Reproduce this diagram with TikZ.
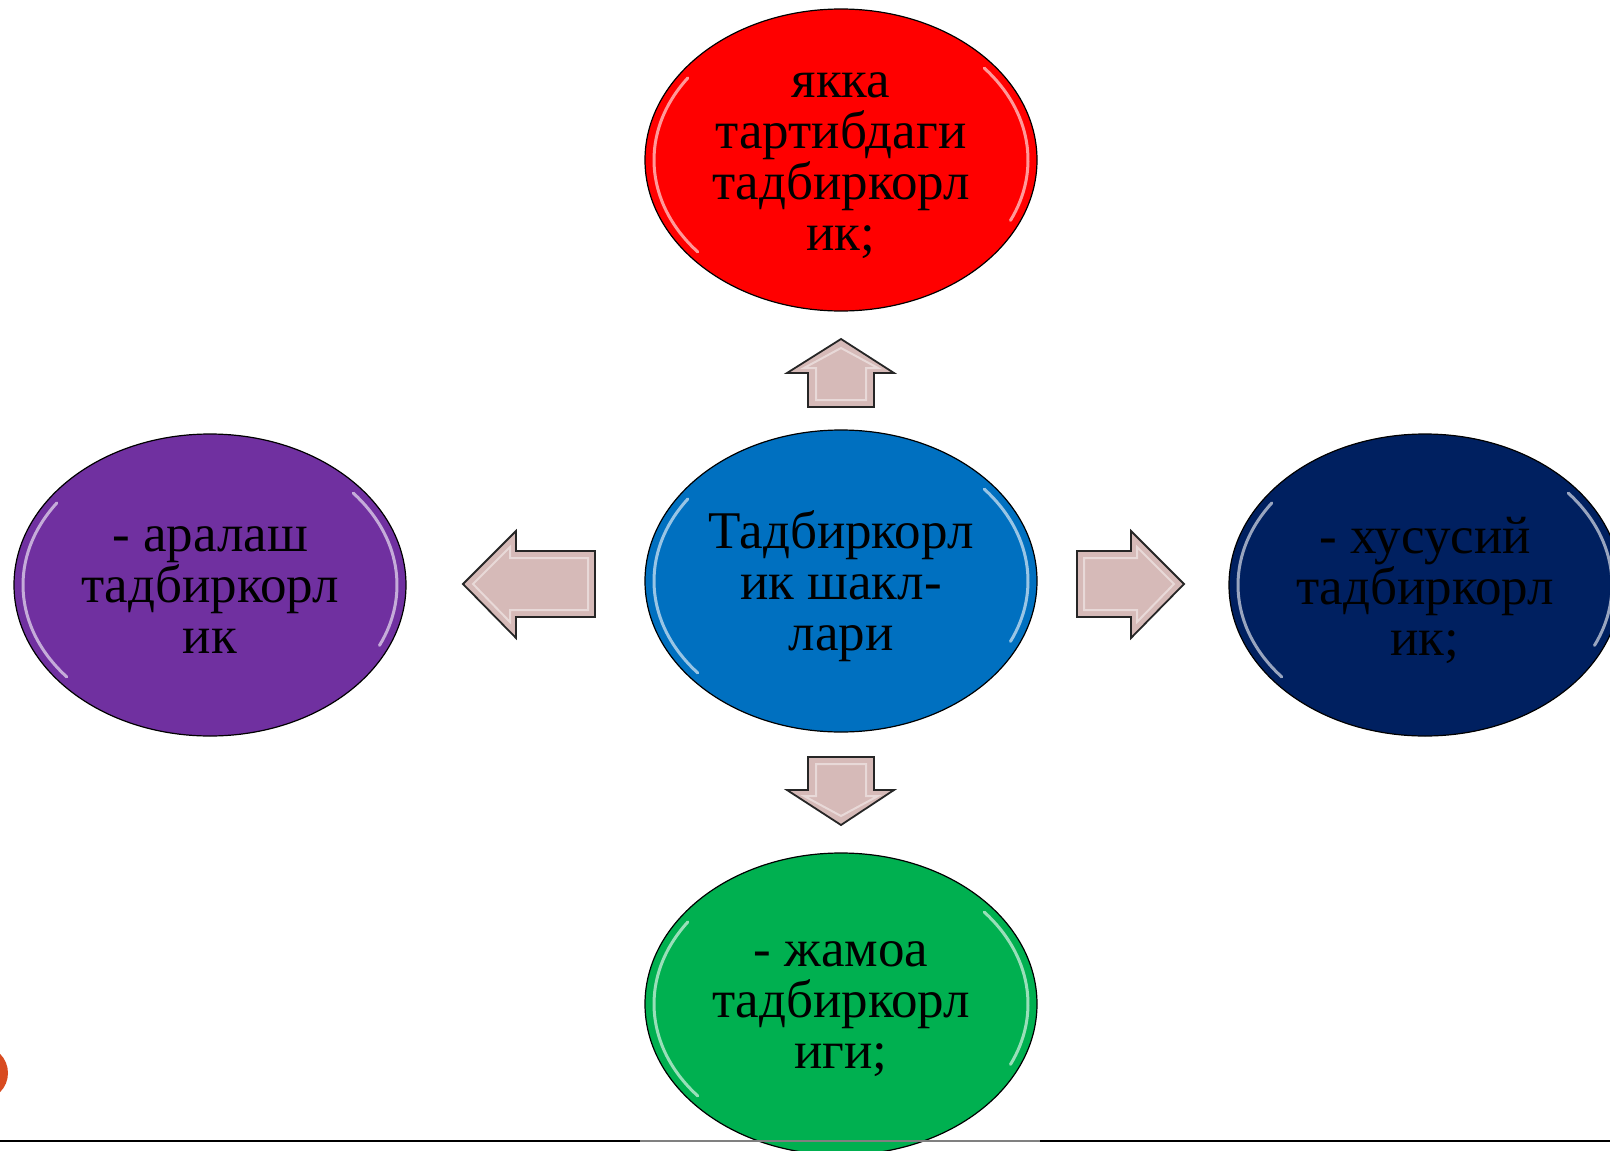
\documentclass[tikz,border=0pt]{standalone}
\usepackage{fontspec}
\setmainfont{Liberation Serif}
\usetikzlibrary{shapes.geometric}
\definecolor{cRed}{RGB}{255,0,0}
\definecolor{cBlue}{RGB}{0,112,192}
\definecolor{cPurple}{RGB}{112,48,160}
\definecolor{cNavy}{RGB}{0,32,96}
\definecolor{cGreen}{RGB}{0,176,80}
\definecolor{cPink}{RGB}{214,186,184}
\definecolor{cOrange}{RGB}{216,75,32}
\tikzset{
  form/.style={ellipse, draw=black, line width=1.2pt, minimum width=392pt, minimum height=302pt},
  txt/.style={align=center, text=black, font=\fontsize{53}{51}\selectfont},
  gloss/.style={white, line width=3pt, opacity=0.6, line cap=round},
  blk/.style={fill=cPink, draw=black!85, line width=1.8pt, line join=miter},
  bevel/.style={white, line width=2pt, opacity=0.45}
}
\begin{document}
\begin{tikzpicture}[x=1pt, y=-1pt]
  \useasboundingbox (0,0) rectangle (1610,1151);
  \clip (0,0) rectangle (1610,1151);

  % base line and corner mark
  \fill[cOrange] (-19,1073) circle[radius=27];
  \draw[black, line width=1.6pt] (0,1141) -- (640,1141);
  \draw[black, line width=1.6pt] (1040,1141) -- (1610,1141);

  % ellipses
  \node[form, fill=cRed] (IND) at (841,160) {};
  \node[form, fill=cBlue] (FRM) at (841,581) {};
  \node[form, fill=cPurple] (MIX) at (210,585) {};
  \node[form, fill=cNavy] (PRV) at (1425,585) {};
  \node[form, fill=cGreen] (COL) at (841,1004) {};

  \foreach \n in {IND,FRM,MIX,PRV,COL} {
    \draw[gloss] (\n.center) ++(140:187 and 143) arc[start angle=140, end angle=215, x radius=187, y radius=143];
    \draw[gloss] (\n.center) ++(-40:187 and 143) arc[start angle=-40, end angle=25, x radius=187, y radius=143];
  }

  % texts
  \node[txt] (INDt) at ([yshift=-6pt]IND.center) {якка\\тартибдаги\\тадбиркорл\\ик;};
  \node[txt] (FRMt) at ([yshift=-5pt]FRM.center) {Тадбиркорл\\ик шакл-\\лари};
  \node[txt] (MIXt) at ([yshift=-5pt]MIX.center) {- аралаш\\тадбиркорл\\ик};
  \node[txt] (PRVt) at ([yshift=-5pt]PRV.center) {- хусусий\\тадбиркорл\\ик;};
  \node[txt] (COLt) at ([yshift=-5pt]COL.center) {- жамоа\\тадбиркорл\\иги;};

  \draw[gray, line width=1.4pt] (640,1141) -- (1040,1141);

  % block arrows
  \draw[blk] (841,339) -- (894,373) -- (874,373) -- (874,407) -- (808,407) -- (808,373) -- (787,373) -- cycle;
  \draw[bevel] (841,348) -- (878,368) -- (866,368) -- (866,400) -- (816,400) -- (816,368) -- (804,368) -- cycle;

  \draw[blk] (841,825) -- (894,790) -- (874,790) -- (874,757) -- (808,757) -- (808,790) -- (787,790) -- cycle;
  \draw[bevel] (841,816) -- (878,796) -- (866,796) -- (866,764) -- (816,764) -- (816,796) -- (804,796) -- cycle;

  \draw[blk] (463,584) -- (516,531) -- (516,551) -- (595,551) -- (595,617) -- (516,617) -- (516,638) -- cycle;
  \draw[bevel] (473,584) -- (510,547) -- (510,558) -- (588,558) -- (588,610) -- (510,610) -- (510,622) -- cycle;

  \draw[blk] (1184,584) -- (1131,531) -- (1131,551) -- (1077,551) -- (1077,617) -- (1131,617) -- (1131,638) -- cycle;
  \draw[bevel] (1174,584) -- (1137,547) -- (1137,558) -- (1084,558) -- (1084,610) -- (1137,610) -- (1137,622) -- cycle;
\end{tikzpicture}
\end{document}
